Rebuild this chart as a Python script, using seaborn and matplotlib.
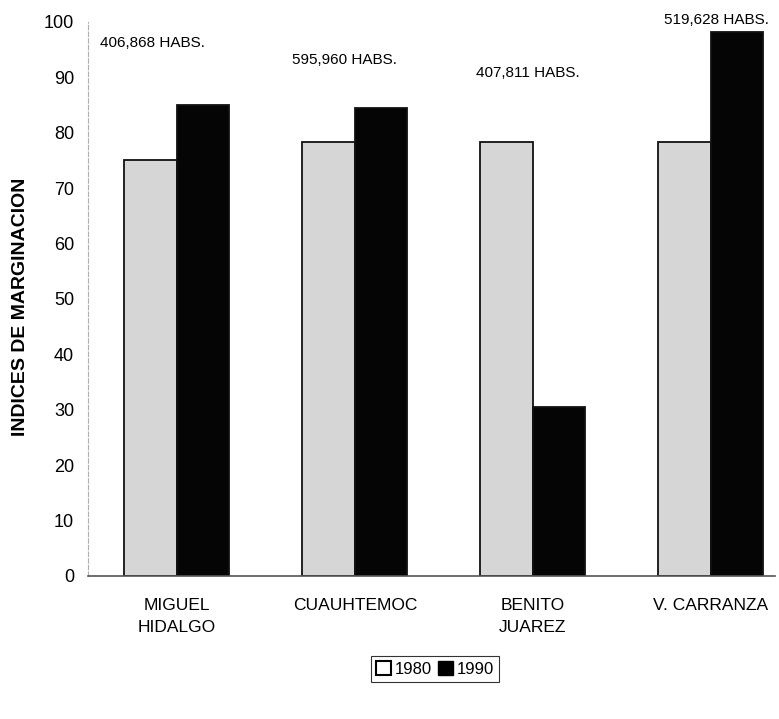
import matplotlib
matplotlib.use("Agg")
import matplotlib.pyplot as plt
import seaborn as sns
import pandas as pd
from matplotlib.patches import Patch

delegaciones = ["MIGUEL\nHIDALGO", "CUAUHTEMOC", "BENITO\nJUAREZ", "V. CARRANZA"]
years = ["1980", "1990"]
valores_1980 = [75.1, 78.3, 78.3, 78.3]
valores_1990 = [85.0, 84.5, 30.5, 98.2]
poblacion = ["406,868 HABS.", "595,960 HABS.", "407,811 HABS.", "519,628 HABS."]
pob_y = [96.2, 93.1, 90.8, 100.4]
pob_dx = [-0.14, -0.06, -0.03, 0.03]

df = pd.DataFrame({
    "delegacion": delegaciones * 2,
    "anio": [years[0]] * 4 + [years[1]] * 4,
    "indice": valores_1980 + valores_1990,
})

sns.set_style("white")
plt.rcParams["font.family"] = ["Liberation Sans", "DejaVu Sans"]
plt.rcParams["text.color"] = "black"
plt.rcParams["xtick.color"] = "black"
plt.rcParams["ytick.color"] = "black"
plt.rcParams["axes.labelcolor"] = "black"

W, H = 779, 719
fig = plt.figure(figsize=(W / 100, H / 100), dpi=100)
ax = fig.add_axes([88 / W, 1 - 576 / H, (775 - 88) / W, (576 - 22) / H])

palette = {"1980": "#d6d6d6", "1990": "#050505"}
sns.barplot(data=df, x="delegacion", y="indice", hue="anio", order=delegaciones,
            hue_order=years, palette=palette, width=0.59, gap=0,
            edgecolor="#111111", linewidth=1.3, saturation=1, ax=ax, legend=False)

ax.set_xlim(-0.5, 3.36)
ax.set_ylim(0, 100)
ax.set_yticks(range(0, 101, 10))
ax.set_yticklabels([str(v) for v in range(0, 101, 10)], fontsize=13)
ax.tick_params(axis="y", length=4, width=1, color="#888888", pad=6)
ax.tick_params(axis="x", length=0, pad=16, labelsize=12.5)
for lbl in ax.get_xticklabels():
    lbl.set_linespacing(1.55)
ax.set_xlabel("")
ax.set_ylabel("INDICES DE MARGINACION", fontsize=14, fontweight="bold")
ax.yaxis.set_label_coords((29 - 88) / 687, 0.486)

for s in ["top", "right"]:
    ax.spines[s].set_visible(False)
ax.spines["left"].set_color("#b0b0b0")
ax.spines["left"].set_linestyle((0, (4, 2)))
ax.spines["bottom"].set_color("#555555")
ax.spines["bottom"].set_linewidth(1.2)

for i, (txt, yv, dx) in enumerate(zip(poblacion, pob_y, pob_dx)):
    ax.text(i + dx, yv, txt, ha="center", va="center", fontsize=11, clip_on=False)

handles = [Patch(facecolor="white", edgecolor="black", linewidth=1.5, label="1980"),
           Patch(facecolor="black", edgecolor="black", label="1990")]
leg = fig.legend(handles=handles, loc="center", bbox_to_anchor=(435 / W, 1 - 669 / H),
                 ncol=2, fontsize=12, frameon=True, fancybox=False, edgecolor="black",
                 handlelength=0.9, handleheight=0.9, handletextpad=0.2, columnspacing=0.4,
                 borderpad=0.3, borderaxespad=0)
leg.get_frame().set_linewidth(0.8)

fig.savefig("out.png", dpi=100, facecolor="white")
